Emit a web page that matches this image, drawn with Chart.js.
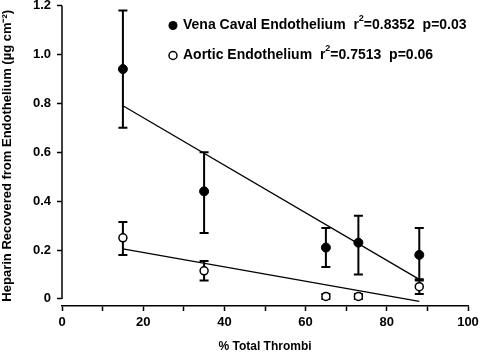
<!DOCTYPE html>
<html>
<head>
<meta charset="utf-8">
<script src="https://cdn.jsdelivr.net/npm/chart.js@4.4.1/dist/chart.umd.min.js"></script>
<style>
  body { margin: 0; background: #fff; }
  #wrap { width: 480px; height: 354px; }
</style>
</head>
<body>
<div id="wrap"><canvas id="chart" width="480" height="354"></canvas></div>
<script>
// % total thrombi for each group
const thrombi = [15, 35, 65, 73, 88];

// vena caval endothelium (mean, error bar top/bottom)
const venaMean = [0.94, 0.44, 0.21, 0.23, 0.18];
const venaUpper = [1.18, 0.60, 0.29, 0.34, 0.29];
const venaLower = [0.70, 0.27, 0.13, 0.10, 0.08];

// aortic endothelium
const aorticMean = [0.25, 0.115, 0.01, 0.01, 0.05];
const aorticUpper = [0.315, 0.155, 0.02, 0.02, 0.075];
const aorticLower = [0.18, 0.075, 0.0, 0.0, 0.02];

// regression line end points
const fitX = [15, 88];
const venaFit = [0.79, 0.08];
const aorticFit = [0.205, -0.01];

const xTicks = [0, 10, 20, 30, 40, 50, 60, 70, 80, 90, 100];
const yTicks = [0, 0.2, 0.4, 0.6, 0.8, 1.0, 1.2];

const legendRows = [
  { name: "Vena Caval Endothelium", r2: "0.8352", p: "0.03", filled: true },
  { name: "Aortic Endothelium", r2: "0.7513", p: "0.06", filled: false }
];

const FONT = "'Liberation Sans', Arial, sans-serif";

function toPoints(xs, ys) {
  return xs.map((x, i) => ({ x: x, y: ys[i] }));
}

// draw the error bars under the markers
const errorBars = {
  id: "errorBars",
  beforeDatasetsDraw(chart) {
    const ctx = chart.ctx;
    const xs = chart.scales.x, ys = chart.scales.y;
    const groups = [[venaUpper, venaLower], [aorticUpper, aorticLower]];
    ctx.save();
    ctx.strokeStyle = "#000";
    ctx.lineWidth = 2;
    groups.forEach(([up, lo]) => {
      thrombi.forEach((t, i) => {
        const px = xs.getPixelForValue(t);
        const top = ys.getPixelForValue(up[i]);
        const bot = ys.getPixelForValue(lo[i]);
        ctx.beginPath();
        ctx.moveTo(px, top); ctx.lineTo(px, bot);
        ctx.moveTo(px - 4.5, top); ctx.lineTo(px + 4.5, top);
        ctx.moveTo(px - 4.5, bot); ctx.lineTo(px + 4.5, bot);
        ctx.stroke();
      });
    });
    ctx.restore();
  }
};

// y axis line only runs from 0 to 1.2, the x axis sits a bit below it
const yAxisLine = {
  id: "yAxisLine",
  afterDraw(chart) {
    const ctx = chart.ctx;
    const ys = chart.scales.y;
    const x = chart.chartArea.left;
    ctx.save();
    ctx.strokeStyle = "#000";
    ctx.lineWidth = 1.5;
    ctx.beginPath();
    ctx.moveTo(x, ys.getPixelForValue(0));
    ctx.lineTo(x, ys.getPixelForValue(1.2));
    ctx.stroke();
    ctx.restore();
  }
};

// legend inside the plot, with superscript 2
const insideLegend = {
  id: "insideLegend",
  afterDraw(chart) {
    const ctx = chart.ctx;
    const left = chart.chartArea.left + 111;
    const top = chart.chartArea.top + 20;
    ctx.save();
    ctx.fillStyle = "#000";
    ctx.strokeStyle = "#000";
    ctx.textBaseline = "middle";
    legendRows.forEach((row, i) => {
      const y = top + i * 30;
      ctx.beginPath();
      ctx.arc(left, y, row.filled ? 4.5 : 4, 0, Math.PI * 2);
      if (row.filled) {
        ctx.fill();
      } else {
        ctx.fillStyle = "#fff"; ctx.fill();
        ctx.fillStyle = "#000";
        ctx.lineWidth = 1.5; ctx.stroke();
      }
      let x = left + 10;
      ctx.font = "bold 14px " + FONT;
      const first = row.name + "  r";
      ctx.fillText(first, x, y);
      x += ctx.measureText(first).width;
      ctx.font = "bold 9px " + FONT;
      ctx.fillText("2", x, y - 7);
      x += ctx.measureText("2").width;
      ctx.font = "bold 14px " + FONT;
      ctx.fillText("=" + row.r2 + "  p=" + row.p, x, y);
    });
    ctx.restore();
  }
};

new Chart(document.getElementById("chart"), {
  type: "scatter",
  data: {
    datasets: [
      {
        label: "Vena Caval Endothelium",
        data: toPoints(thrombi, venaMean),
        pointRadius: 4.5,
        pointBackgroundColor: "#000",
        pointBorderColor: "#000",
        pointBorderWidth: 1
      },
      {
        label: "Aortic Endothelium",
        data: toPoints(thrombi, aorticMean),
        pointRadius: 4,
        pointBackgroundColor: "#fff",
        pointBorderColor: "#000",
        pointBorderWidth: 1.5
      },
      {
        type: "line",
        data: toPoints(fitX, venaFit),
        borderColor: "#000",
        borderWidth: 1.3,
        pointRadius: 0,
        clip: false
      },
      {
        type: "line",
        data: toPoints(fitX, aorticFit),
        borderColor: "#000",
        borderWidth: 1.3,
        pointRadius: 0,
        clip: false
      }
    ]
  },
  options: {
    responsive: false,
    animation: false,
    layout: { padding: { top: 5, right: 0, bottom: 0, left: 0 } },
    plugins: {
      legend: { display: false },
      tooltip: { enabled: false }
    },
    scales: {
      x: {
        type: "linear",
        min: 0,
        max: 100,
        afterBuildTicks: s => { s.ticks = xTicks.map(v => ({ value: v })); },
        afterFit: s => { s.height = 48; s.paddingRight = 12; },
        ticks: {
          color: "#000",
          padding: 4,
          autoSkip: false,
          maxRotation: 0,
          font: { family: FONT, size: 13, weight: "bold" },
          callback: v => (v % 20 === 0 ? String(v) : "")
        },
        grid: { drawOnChartArea: false, color: "#000", tickLength: 5, tickWidth: 1.5 },
        border: { display: true, color: "#000", width: 1.5 },
        title: {
          display: true,
          text: "% Total Thrombi",
          color: "#000",
          padding: { top: 0, bottom: 0 },
          font: { family: FONT, size: 12, weight: "bold" }
        }
      },
      y: {
        type: "linear",
        min: -0.029,
        max: 1.2,
        afterBuildTicks: s => { s.ticks = yTicks.map(v => ({ value: v })); },
        afterFit: s => { s.width = 62; s.paddingTop = 0; s.paddingBottom = 0; },
        ticks: {
          color: "#000",
          padding: 6,
          font: { family: FONT, size: 13, weight: "bold" },
          callback: v => (v === 0 ? "0" : v.toFixed(1))
        },
        grid: { drawOnChartArea: false, color: "#000", tickLength: 5, tickWidth: 1.5 },
        border: { display: false },
        title: {
          display: true,
          text: "Heparin Recovered from Endothelium (\u00b5g cm\u207b\u00b2)",
          color: "#000",
          padding: { top: 0, bottom: 0 },
          font: { family: FONT, size: 13, weight: "bold" }
        }
      }
    }
  },
  plugins: [errorBars, yAxisLine, insideLegend]
});
</script>
</body>
</html>
